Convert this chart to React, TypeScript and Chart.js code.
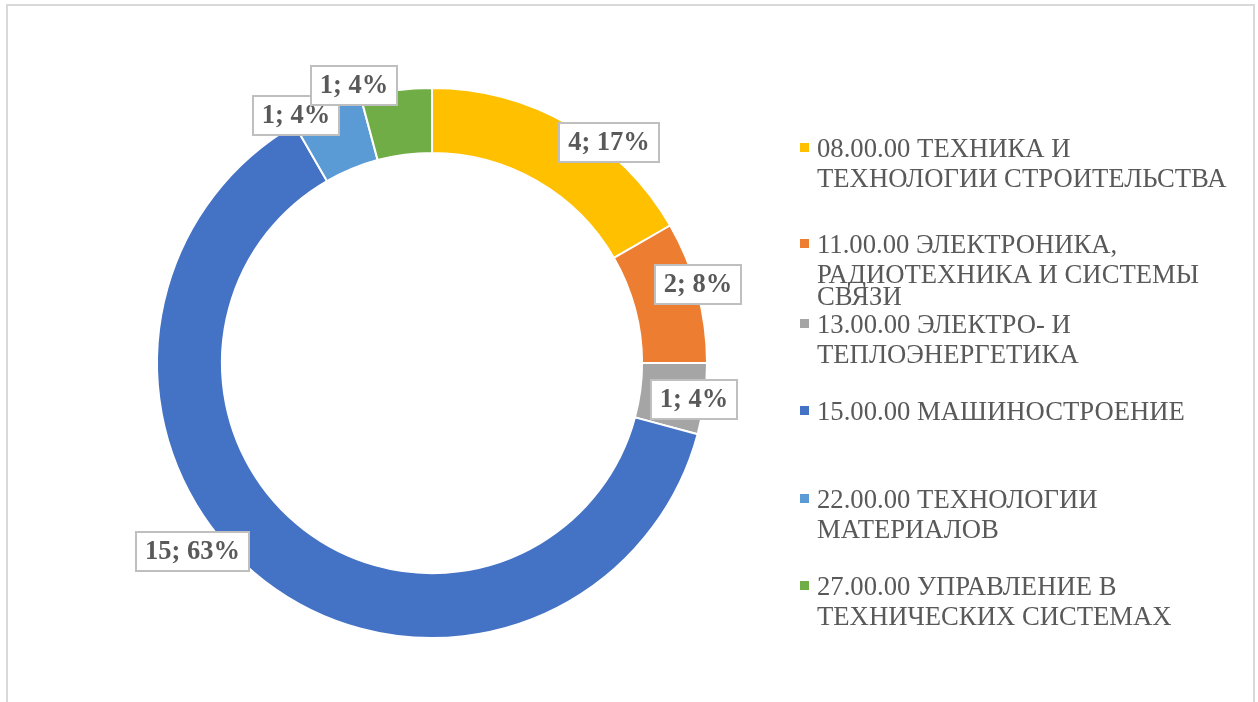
import React, { useEffect, useRef } from "react";
import { Chart, registerables } from "chart.js";

Chart.register(...registerables);

// ---- data ----
const categories: string[][] = [
  ["08.00.00 ТЕХНИКА И", "ТЕХНОЛОГИИ СТРОИТЕЛЬСТВА"],
  ["11.00.00 ЭЛЕКТРОНИКА,", "РАДИОТЕХНИКА И СИСТЕМЫ", "СВЯЗИ"],
  ["13.00.00 ЭЛЕКТРО- И", "ТЕПЛОЭНЕРГЕТИКА"],
  ["15.00.00 МАШИНОСТРОЕНИЕ"],
  ["22.00.00 ТЕХНОЛОГИИ", "МАТЕРИАЛОВ"],
  ["27.00.00 УПРАВЛЕНИЕ В", "ТЕХНИЧЕСКИХ СИСТЕМАХ"],
];
const values: number[] = [4, 2, 1, 15, 1, 1];

// ---- styles ----
const colors = ["#FFC000", "#ED7D31", "#A5A5A5", "#4472C4", "#5B9BD5", "#70AD47"];
const labelOffsets: [number, number][] = [
  [39, 18],
  [0, -7],
  [-11, 1],
  [-72, -30],
  [-31, 7],
  [-42, -5],
];
const legendBaselines = [157, 253, 333, 420, 508, 595];
const legendLineGaps: number[][] = [[30], [30, 22], [30], [], [30], [30]];
const FONT = "'Liberation Serif', 'Times New Roman', serif";
const TEXT_COLOR = "#595959";

const labelPlugin = {
  id: "boxLabels",
  afterDatasetsDraw(chart: any) {
    const ctx = chart.ctx;
    const meta = chart.getDatasetMeta(0);
    const data = chart.data.datasets[0].data as number[];
    const total = data.reduce((a, b) => a + b, 0);
    ctx.save();
    ctx.font = `bold 26.5px ${FONT}`;
    ctx.textAlign = "center";
    ctx.textBaseline = "middle";
    meta.data.forEach((arc: any, i: number) => {
      const { x, y, startAngle, endAngle, outerRadius } = arc.getProps(
        ["x", "y", "startAngle", "endAngle", "outerRadius"],
        true
      );
      const mid = (startAngle + endAngle) / 2;
      const [dx, dy] = labelOffsets[i] || [0, 0];
      const cx = x + Math.cos(mid) * outerRadius + dx;
      const cy = y + Math.sin(mid) * outerRadius + dy;
      const text = `${data[i]}; ${Math.round((data[i] / total) * 100)}%`;
      const tw = ctx.measureText(text).width;
      const w = Math.round(tw + 18);
      const h = 39;
      const bx = Math.round(cx - w / 2);
      const by = Math.round(cy - h / 2);
      ctx.fillStyle = "#ffffff";
      ctx.fillRect(bx, by, w, h);
      ctx.strokeStyle = "#BFBFBF";
      ctx.lineWidth = 2;
      ctx.strokeRect(bx, by, w, h);
      ctx.fillStyle = TEXT_COLOR;
      ctx.fillText(text, bx + w / 2, by + h / 2 + 1);
    });
    ctx.restore();
  },
};

const legendPlugin = {
  id: "sideLegend",
  afterDraw(chart: any) {
    const ctx = chart.ctx;
    const labels = chart.data.labels as string[][];
    const bg = chart.data.datasets[0].backgroundColor as string[];
    ctx.save();
    ctx.font = `26.7px ${FONT}`;
    ctx.textAlign = "left";
    ctx.textBaseline = "alphabetic";
    labels.forEach((lines, i) => {
      const base = legendBaselines[i];
      ctx.fillStyle = bg[i];
      ctx.fillRect(800, base - 14, 9, 9);
      ctx.fillStyle = TEXT_COLOR;
      let yy = base;
      lines.forEach((line, j) => {
        if (j > 0) yy += (legendLineGaps[i] && legendLineGaps[i][j - 1]) || 30;
        ctx.fillText(line, 817, yy);
      });
    });
    ctx.restore();
  },
};

export default function App() {
  const ref = useRef<HTMLCanvasElement | null>(null);
  useEffect(() => {
    if (!ref.current) return;
    const chart = new Chart(ref.current, {
      type: "doughnut",
      data: {
        labels: categories,
        datasets: [
          {
            data: values,
            backgroundColor: colors,
            borderColor: "#ffffff",
            borderWidth: 2,
            hoverOffset: 0,
          },
        ],
      },
      options: {
        animation: false,
        responsive: false,
        maintainAspectRatio: false,
        cutout: "76.4%",
        layout: { padding: { left: 156, right: 550, top: 87, bottom: 63 } },
        plugins: {
          legend: { display: false },
          tooltip: { enabled: false },
          title: { display: false },
        },
        events: [],
      },
      plugins: [labelPlugin, legendPlugin],
    });
    return () => chart.destroy();
  }, []);

  return (
    <div
      style={{
        position: "fixed",
        left: 0,
        top: 0,
        width: 1258,
        height: 702,
        overflow: "hidden",
        background: "#ffffff",
      }}
    >
      <div
        style={{
          position: "absolute",
          left: 6,
          top: 4,
          width: 1245,
          height: 760,
          border: "2px solid #D9D9D9",
        }}
      />
      <canvas
        ref={ref}
        width={1258}
        height={702}
        style={{ position: "absolute", left: 0, top: 0, width: 1258, height: 702 }}
      />
    </div>
  );
}
